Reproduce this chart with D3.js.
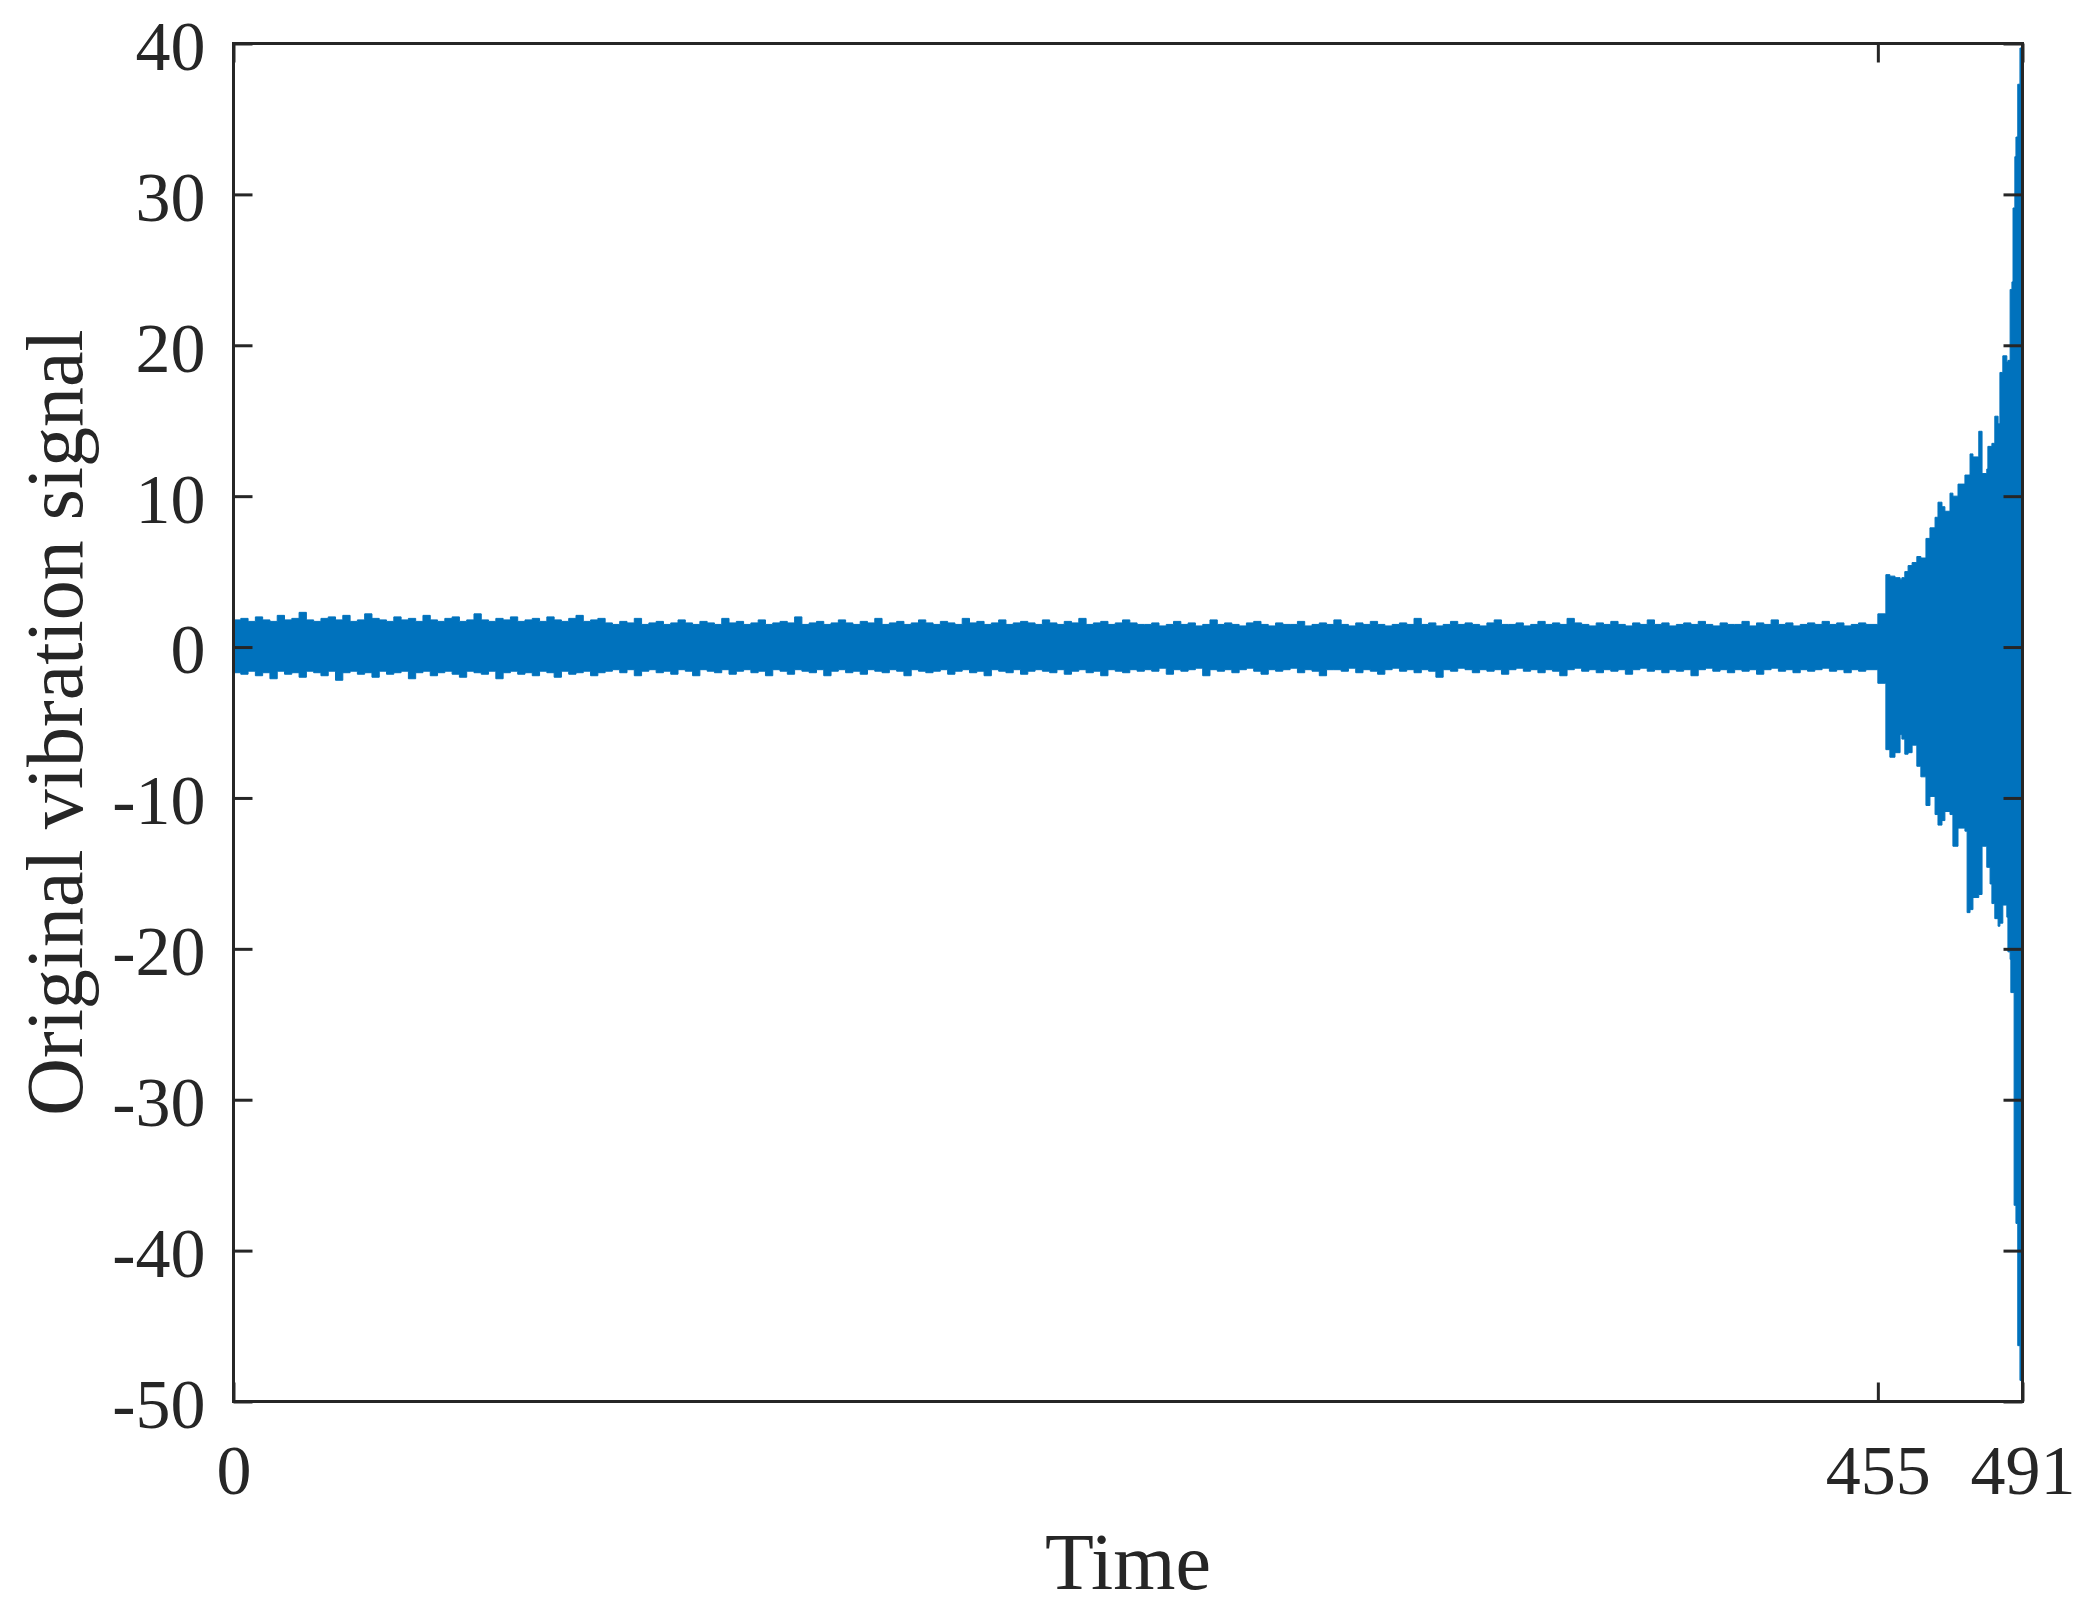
<!DOCTYPE html>
<html>
<head>
<meta charset="utf-8">
<script src="https://cdn.jsdelivr.net/npm/d3@7"></script>
<style>
  html, body { margin: 0; padding: 0; background: #ffffff; }
  svg { display: block; }
</style>
</head>
<body>
<div id="chart"></div>
<script>
// ---------------- data ----------------
const xDomain = [0, 491];
const yDomain = [-50, 40];
const yTickValues = [-50, -40, -30, -20, -10, 0, 10, 20, 30, 40];
const yTickLabels = ["-50", "-40", "-30", "-20", "-10", "0", "10", "20", "30", "40"];
const xTickValues = [0, 451.3, 491];
const xTickLabels = ["0", "455", "491"];

// envelope of the healthy part: one value every 2 time units starting at 0
const flatStep = 2;
const flatUpper = [
1.8,1.9,1.7,2.0,1.8,1.7,2.1,1.8,1.9,2.3,1.8,1.7,1.9,2.0,1.8,2.1,1.7,1.8,2.2,1.9,
1.8,1.7,2.0,1.8,1.9,1.7,2.1,1.8,1.7,1.9,2.0,1.7,1.8,2.2,1.8,1.7,1.9,1.8,2.0,1.7,
1.8,1.9,1.7,2.0,1.8,1.7,1.9,2.1,1.7,1.8,1.9,
1.6,1.5,1.7,1.6,1.9,1.5,1.6,1.7,1.5,1.6,1.8,1.6,1.5,1.7,1.6,1.5,1.9,1.6,1.7,1.5,
1.6,1.8,1.5,1.6,1.7,1.6,2.0,1.5,1.6,1.7,1.5,1.6,1.8,1.6,1.5,1.7,1.6,1.9,1.5,1.6,
1.7,1.5,1.6,1.8,1.6,1.5,1.7,1.6,1.5,1.9,1.6,1.7,1.5,1.6,1.8,1.5,1.6,1.7,1.6,1.5,
1.8,1.6,1.5,1.7,1.6,1.9,1.5,1.6,1.7,1.5,1.6,1.8,1.6,1.5,
1.5,1.6,1.4,1.5,1.7,1.5,1.6,1.4,1.5,1.8,1.5,1.6,1.5,1.4,1.6,1.7,1.5,1.4,1.6,1.5,
1.5,1.7,1.4,1.5,1.6,1.5,1.8,1.5,1.4,1.6,1.5,1.7,1.5,1.4,1.5,1.6,1.5,1.9,1.5,1.6,
1.4,1.5,1.7,1.5,1.6,1.5,1.4,1.6,1.8,1.5,1.5,1.6,1.4,1.5,1.7,1.5,1.6,1.5,1.9,1.6,
1.5,1.4,1.6,1.5,1.7,1.5,1.4,1.6,1.5,1.8,1.5,1.6,1.4,1.5,1.6,1.5,1.7,1.5,1.4,1.6,
1.5,1.5,1.7,1.4,1.6,1.5,1.8,1.5,1.6,1.4,1.5,1.6,1.5,1.7,1.5,1.6,1.4,1.5,1.6,1.5
];
const flatLower = [
-1.7,-1.8,-1.6,-1.9,-1.7,-2.1,-1.6,-1.8,-1.7,-2.0,-1.6,-1.7,-1.9,-1.6,-2.2,-1.7,-1.6,-1.8,-1.7,-2.0,
-1.6,-1.8,-1.7,-1.6,-2.1,-1.7,-1.6,-1.9,-1.7,-1.6,-1.8,-2.0,-1.6,-1.7,-1.8,-1.6,-2.1,-1.7,-1.6,-1.8,
-1.7,-1.9,-1.6,-1.7,-2.0,-1.6,-1.8,-1.7,-1.6,-1.9,-1.7,
-1.6,-1.5,-1.7,-1.5,-1.9,-1.6,-1.5,-1.7,-1.6,-1.8,-1.5,-1.6,-1.9,-1.5,-1.6,-1.7,-1.5,-1.8,-1.6,-1.5,
-1.7,-1.6,-1.9,-1.5,-1.6,-1.8,-1.5,-1.6,-1.7,-1.5,-1.9,-1.6,-1.5,-1.7,-1.6,-1.8,-1.5,-1.6,-1.7,-1.5,
-1.6,-1.9,-1.5,-1.6,-1.7,-1.6,-1.5,-1.8,-1.6,-1.5,-1.7,-1.6,-1.9,-1.5,-1.6,-1.7,-1.5,-1.8,-1.6,-1.5,
-1.6,-1.7,-1.5,-1.8,-1.6,-1.5,-1.7,-1.6,-1.9,-1.5,-1.6,-1.7,-1.5,-1.6,
-1.5,-1.6,-1.4,-1.8,-1.5,-1.6,-1.5,-1.4,-1.9,-1.5,-1.6,-1.5,-1.7,-1.5,-1.4,-1.6,-1.8,-1.5,-1.6,-1.5,
-1.4,-1.7,-1.5,-1.6,-1.9,-1.5,-1.5,-1.6,-1.4,-1.7,-1.5,-1.6,-1.8,-1.5,-1.4,-1.6,-1.5,-1.7,-1.5,-1.6,
-2.0,-1.5,-1.6,-1.4,-1.5,-1.7,-1.5,-1.6,-1.5,-1.8,-1.5,-1.4,-1.6,-1.5,-1.7,-1.5,-1.6,-1.9,-1.5,-1.4,
-1.6,-1.5,-1.7,-1.5,-1.6,-1.5,-1.8,-1.5,-1.4,-1.6,-1.5,-1.7,-1.5,-1.6,-1.5,-1.9,-1.5,-1.4,-1.6,-1.5,
-1.7,-1.5,-1.6,-1.5,-1.8,-1.5,-1.4,-1.6,-1.5,-1.7,-1.5,-1.6,-1.5,-1.4,-1.6,-1.5,-1.7,-1.5,-1.6,-1.5
];

// envelope of the degradation part (explicit times)
const failTime = [451.3,453.5,454.6,456.0,457.4,457.9,458.7,459.6,460.7,462.0,463.1,464.5,465.6,467.0,467.8,468.9,
  469.7,471.1,471.9,473.3,475.2,475.8,476.6,477.4,479.0,479.9,481.2,481.5,482.1,482.6,483.4,484.3,484.8,485.6,
  486.7,487.0,487.6,487.8,488.1,488.4,488.7,488.9,489.2,489.7,490.3];
const failUpper = [2.2,4.8,4.7,4.6,4.5,4.6,5.0,5.4,5.6,6.0,5.9,7.2,7.9,8.6,9.6,9.3,
  9.0,10.2,10.0,10.8,11.4,11.4,12.8,12.6,14.3,11.5,11.8,13.3,13.3,13.5,15.3,14.8,18.2,19.3,
  18.9,19.0,23.7,23.7,24.2,29.1,29.1,32.5,33.8,37.3,39.7];
const failLower = [-2.4,-6.8,-7.3,-7.0,-5.8,-6.1,-7.1,-7.0,-6.5,-7.9,-8.6,-10.5,-9.9,-11.1,-11.8,-11.5,
  -10.9,-11.1,-13.2,-12.0,-12.2,-17.6,-17.4,-16.6,-16.4,-13.2,-14.6,-14.6,-15.7,-17.0,-18.0,-18.5,-18.3,-17.1,
  -17.9,-20.2,-20.7,-22.9,-22.9,-22.9,-37.0,-37.0,-38.2,-46.3,-48.6];

// ---------------- drawing ----------------
(function () {
const W = 2084, H = 1611;
const pLeft = 233.5, pRight = 2022.5, pTop = 43.5, pBottom = 1401.5;
const ink = "#262626";
const lineColor = "#0072BD";
const fontFamily = "'Liberation Serif', 'Times New Roman', Times, serif";

const svg = d3.select("#chart").append("svg")
  .attr("width", W).attr("height", H)
  .style("background", "#ffffff");

const x = d3.scaleLinear().domain(xDomain).range([pLeft, pRight]);
const y = d3.scaleLinear().domain(yDomain).range([pBottom, pTop]);

const n = Math.min(flatUpper.length, flatLower.length);
const env = [];
for (let i = 0; i < n; i++) env.push({t: i * flatStep, hi: flatUpper[i], lo: flatLower[i]});
for (let i = 0; i < failTime.length; i++) env.push({t: failTime[i], hi: failUpper[i], lo: failLower[i]});
const lastPt = env[env.length - 1];
env.push({t: xDomain[1], hi: lastPt.hi, lo: lastPt.lo});

svg.append("defs").append("clipPath").attr("id", "plotclip")
  .append("rect").attr("x", pLeft).attr("y", pTop).attr("width", pRight - pLeft).attr("height", pBottom - pTop);

const area = d3.area()
  .x(d => x(d.t))
  .y0(d => y(d.lo))
  .y1(d => y(d.hi))
  .curve(d3.curveStepAfter);

svg.append("path")
  .datum(env)
  .attr("clip-path", "url(#plotclip)")
  .attr("d", area)
  .attr("fill", lineColor)
  .attr("stroke", lineColor)
  .attr("stroke-width", 1);

const tickLen = 19;
function styleAxis(g) {
  g.select(".domain").remove();
  g.selectAll(".tick line").attr("stroke", ink).attr("stroke-width", 3);
  g.selectAll(".tick text").attr("fill", ink).style("font-family", fontFamily).style("font-size", "70px");
}

const yAxisL = d3.axisLeft(y).tickValues(yTickValues).tickSize(-tickLen).tickPadding(28)
  .tickFormat((d, i) => yTickLabels[i]);
svg.append("g").attr("transform", `translate(${pLeft},0)`).call(yAxisL).call(styleAxis)
  .selectAll(".tick text").attr("dy", "0.37em");

const yAxisR = d3.axisRight(y).tickValues(yTickValues).tickSize(-tickLen).tickFormat("");
svg.append("g").attr("transform", `translate(${pRight},0)`).call(yAxisR).call(styleAxis);

const xAxisB = d3.axisBottom(x).tickValues(xTickValues).tickSize(-tickLen).tickPadding(43)
  .tickFormat((d, i) => xTickLabels[i]);
svg.append("g").attr("transform", `translate(0,${pBottom})`).call(xAxisB).call(styleAxis);

const xAxisT = d3.axisTop(x).tickValues(xTickValues).tickSize(-tickLen).tickFormat("");
svg.append("g").attr("transform", `translate(0,${pTop})`).call(xAxisT).call(styleAxis);

svg.append("rect")
  .attr("x", pLeft).attr("y", pTop).attr("width", pRight - pLeft).attr("height", pBottom - pTop)
  .attr("fill", "none").attr("stroke", ink).attr("stroke-width", 3);

svg.append("text")
  .attr("x", (pLeft + pRight) / 2).attr("y", 1589)
  .attr("text-anchor", "middle")
  .attr("fill", ink)
  .style("font-family", fontFamily).style("font-size", "80px")
  .text("Time");

svg.append("text")
  .attr("transform", `translate(82,${(pTop + pBottom) / 2}) rotate(-90)`)
  .attr("text-anchor", "middle")
  .attr("fill", ink)
  .style("font-family", fontFamily).style("font-size", "80px")
  .text("Original vibration signal");
})();
</script>
</body>
</html>
